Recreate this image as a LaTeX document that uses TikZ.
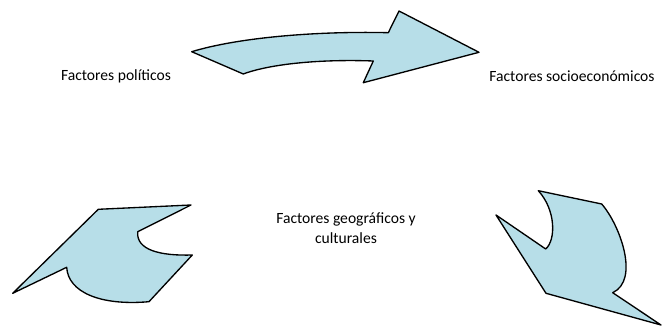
\documentclass[tikz,border=0pt]{standalone}
\usepackage{fontspec}
\setmainfont{Carlito}
\usetikzlibrary{calc}
\definecolor{flecha}{HTML}{B7DEE8}
\tikzset{flechas/.style={line width=1pt, draw=black, fill=flecha, line join=round},
	rotulo/.style={font=\fontsize{11.7}{14.6}\selectfont, align=center}}

\begin{document}
\begin{tikzpicture}[x=0.75pt, y=-0.75pt]
		%%%%% START %%%%%
		\useasboundingbox (0, 0) rectangle (662, 327);
		
		\node[rotulo] (politicos) at (116, 76) {Factores pol\'iticos};
		\node[rotulo] (socio) at (572, 76) {Factores socioecon\'omicos};
		\node[rotulo] (geo) at (346, 228) {Factores geogr\'aficos y\\culturales};
		
		% flecha de arriba
		\draw[flechas] (191.7, 51.7) -- (243.3, 74) .. controls (270, 64) and (320, 59) .. (373.3, 61)
			-- (363.3, 82.7) -- (479, 52.3) -- (399, 11) -- (388.3, 32.7)
			.. controls (320, 31) and (240, 37) .. cycle;
		
		% flecha de abajo a la izquierda
		\draw[flechas] (98.3, 209.3) -- (191, 205) -- (137.7, 231.7)
			.. controls (136, 250) and (160, 256) .. (192.3, 255)
			-- (149, 301.7) .. controls (100, 306) and (68, 292) .. (66.7, 267.3)
			-- (12.7, 293.3) -- cycle;
		
		% flecha de abajo a la derecha
		\draw[flechas] (538.3, 190.7) -- (601.7, 204)
			.. controls (620, 225) and (640, 280) .. (612.7, 292.7)
			-- (661, 325) -- (546, 293.3) -- (496, 215) -- (545.7, 249)
			.. controls (556, 240) and (556, 210) .. cycle;
		
		%%%%% END %%%%%
	\end{tikzpicture}
\end{document}
